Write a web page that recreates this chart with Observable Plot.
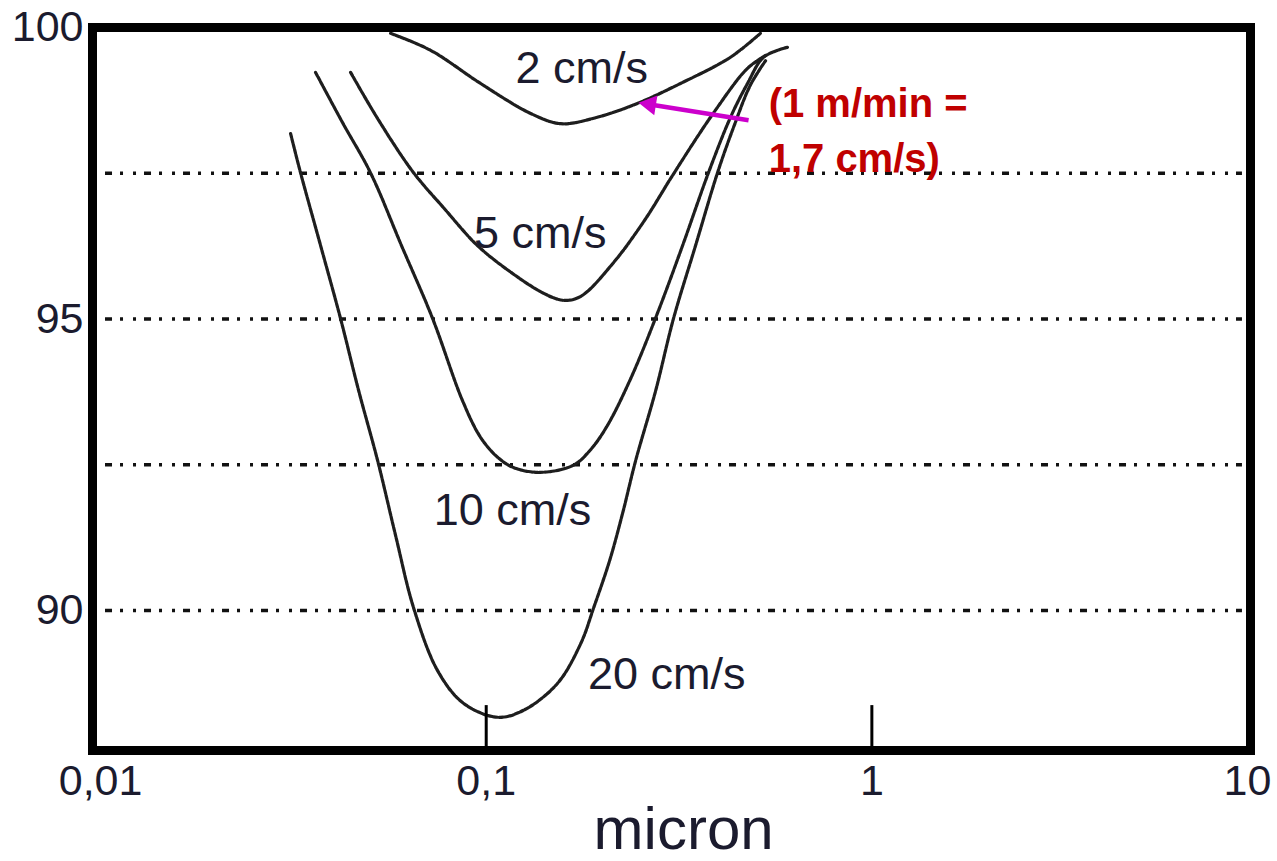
<!DOCTYPE html>
<html>
<head>
<meta charset="utf-8">
<script src="https://cdn.jsdelivr.net/npm/d3@7"></script>
<script src="https://cdn.jsdelivr.net/npm/@observablehq/plot@0.6"></script>
<style>
  body { margin: 0; background: #ffffff; }
  #chart svg { display: block; }
</style>
</head>
<body>
<div id="chart"></div>
<script>
// ---- Data (particle size in micron, collection efficiency in %) ----
const seriesNames = ["2 cm/s", "5 cm/s", "10 cm/s", "20 cm/s"];

const x2 = [0.0565, 0.0717, 0.0967, 0.130, 0.156, 0.194, 0.247, 0.319, 0.430, 0.514];
const y2 = [99.90, 99.61, 99.04, 98.53, 98.35, 98.46, 98.70, 99.04, 99.49, 99.90];

const x5 = [0.0445, 0.0526, 0.0648, 0.0775, 0.0949, 0.116, 0.141, 0.159, 0.176, 0.214, 0.259, 0.304, 0.389, 0.476, 0.530];
const y5 = [99.23, 98.41, 97.51, 96.91, 96.26, 95.80, 95.44, 95.32, 95.39, 95.97, 96.72, 97.46, 98.54, 99.30, 99.52];

const x10 = [0.0361, 0.0424, 0.0501, 0.0603, 0.0726, 0.0868, 0.0967, 0.107, 0.118, 0.138, 0.168, 0.186, 0.206, 0.237, 0.278, 0.323, 0.377, 0.430, 0.476, 0.524, 0.604];
const y10 = [99.23, 98.37, 97.51, 96.26, 95.01, 93.60, 92.97, 92.63, 92.45, 92.37, 92.49, 92.75, 93.17, 93.98, 95.10, 96.26, 97.51, 98.46, 99.04, 99.49, 99.66];

const x20 = [0.0311, 0.0330, 0.0372, 0.0419, 0.0467, 0.0523, 0.0582, 0.0648, 0.0748, 0.0873, 0.107, 0.125, 0.153, 0.176, 0.190, 0.209, 0.226, 0.244, 0.275, 0.306, 0.349, 0.398, 0.438, 0.484, 0.530];
const y20 = [98.18, 97.51, 96.26, 95.01, 93.77, 92.57, 91.29, 90.05, 88.97, 88.41, 88.17, 88.29, 88.75, 89.44, 90.05, 90.86, 91.68, 92.57, 93.77, 95.01, 96.26, 97.51, 98.29, 99.01, 99.43];

const xTicks = [0.01, 0.1, 1];
const xTickLast = [10];
const yTicks = [90, 95, 100];
const gridLevels = [97.5, 95, 92.5, 90];
const innerTicks = [0.1, 1];

// curve labels (anchor in data units)
const labelX = [0.177, 0.138, 0.117, 0.294];
const labelY = [99.30, 96.46, 91.72, 88.91];

// red note + magenta arrow
const noteLines = ["(1 m/min =", "1,7 cm/s)"];
const noteX = [0.54, 0.54];
const noteY = [98.68, 97.74];
const arrowTail = {x: 0.479, y: 98.41};
const arrowHead = {x: 0.266, y: 98.68};

const axisTitle = "micron";
const axisTitleX = [0.325];

// ---- Build tables ----
const xs = [x2, x5, x10, x20];
const ys = [y2, y5, y10, y20];
const curves = seriesNames.flatMap((name, i) => xs[i].map((x, j) => ({series: name, x, y: ys[i][j]})));
const labels = seriesNames.map((name, i) => ({text: name, x: labelX[i], y: labelY[i]}));
const notes = noteLines.map((t, i) => ({text: t, x: noteX[i], y: noteY[i]}));

const fontFamily = "'Liberation Sans', Arial, Helvetica, sans-serif";
const commaFormat = d => String(d).replace(".", ",");

const chart = Plot.plot({
  width: 1277,
  height: 861,
  marginLeft: 92,
  marginRight: 27,
  marginTop: 27,
  marginBottom: 111,
  style: {fontFamily, background: "#ffffff", color: "#151520"},
  x: {type: "log", domain: [0.00953, 9.59]},
  y: {domain: [87.6, 100]},
  marks: [
    Plot.ruleY(gridLevels, {
      x1: 0.0103, x2: 9.14,
      stroke: "#111", strokeWidth: 3.5,
      strokeDasharray: "7,8,3,10,3,8"
    }),
    Plot.line(curves, {
      x: "x", y: "y", z: "series",
      curve: "catmull-rom",
      stroke: "#1e1e1e", strokeWidth: 3.2,
      strokeDasharray: "4,1.5"
    }),
    Plot.ruleX(innerTicks, {y1: 87.6, y2: 88.37, stroke: "#000", strokeWidth: 3}),
    Plot.frame({stroke: "#000", strokeWidth: 9}),
    Plot.axisX(xTicks, {
      tickSize: 0, tickPadding: 14, fontSize: 43, label: null,
      tickFormat: commaFormat, fill: "#1b1b2e"
    }),
    Plot.axisX(xTickLast, {
      tickSize: 0, tickPadding: 14, fontSize: 43, label: null, dx: -10,
      tickFormat: commaFormat, fill: "#1b1b2e"
    }),
    Plot.axisY(yTicks, {
      tickSize: 0, tickPadding: 9, fontSize: 43, label: null,
      tickFormat: d => String(d), fill: "#1b1b2e"
    }),
    Plot.text([axisTitle], {
      x: axisTitleX, frameAnchor: "bottom", dy: 98,
      fontSize: 60, fill: "#1b1b2e"
    }),
    Plot.text(labels, {
      x: "x", y: "y", text: "text",
      fontSize: 45, fill: "#1b1b2e"
    }),
    Plot.link([{x1: arrowTail.x, y1: arrowTail.y, x2: arrowHead.x, y2: arrowHead.y}], {
      x1: "x1", y1: "y1", x2: "x2", y2: "y2",
      stroke: "#cc00cc", strokeWidth: 4.5
    }),
    Plot.dot([arrowHead], {
      x: "x", y: "y", symbol: "triangle", r: 7.5, rotate: -81,
      fill: "#cc00cc", stroke: "none"
    }),
    Plot.text(notes, {
      x: "x", y: "y", text: "text",
      textAnchor: "start", fontSize: 40, fontWeight: "bold", fill: "#c00000"
    })
  ]
});

document.getElementById("chart").appendChild(chart);
</script>
</body>
</html>
